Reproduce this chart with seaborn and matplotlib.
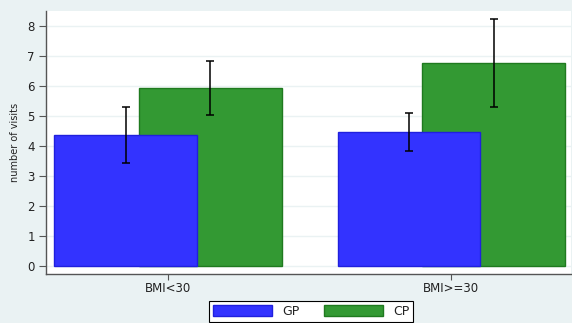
import matplotlib
matplotlib.use("Agg")
import matplotlib.pyplot as plt
import seaborn as sns
import pandas as pd
import numpy as np

categories = ["BMI<30", "BMI>=30"]
series = ["GP", "CP"]
gp_mean = [4.37, 4.48]
gp_low = [3.44, 3.83]
gp_high = [5.31, 5.10]
cp_mean = [5.92, 6.78]
cp_low = [5.03, 5.31]
cp_high = [6.83, 8.24]

sns.set_theme(style="white")
plt.rcParams['font.family'] = ['DejaVu Sans']

bg = "#eaf2f3"
fig = plt.figure(figsize=(5.72, 3.23), dpi=100, facecolor=bg)
ax = fig.add_axes([0.0804, 0.1517, 0.918, 0.8143])
ax.set_facecolor("white")

offset = 0.15
width = 0.502
pos = np.arange(len(categories))

df = pd.DataFrame({
    "pos": np.concatenate([pos - offset, pos + offset]),
    "value": gp_mean + cp_mean,
    "series": ["GP"] * len(categories) + ["CP"] * len(categories),
})

colors = {"GP": "#3333ff", "CP": "#339933"}
edges = {"GP": "#2020dd", "CP": "#1f7a1f"}

# draw CP first (behind), then GP
for s in ["CP", "GP"]:
    sub = df[df.series == s]
    sns.barplot(data=sub, x="pos", y="value", native_scale=True, width=width,
                color=colors[s], saturation=1, errorbar=None, ax=ax,
                edgecolor=edges[s], linewidth=1, label=s, zorder=2)

for m, lo, hi, sgn in [(gp_mean, gp_low, gp_high, -1), (cp_mean, cp_low, cp_high, 1)]:
    xs = pos + sgn * offset
    ax.errorbar(xs, (np.array(lo) + np.array(hi)) / 2,
                yerr=(np.array(hi) - np.array(lo)) / 2,
                fmt="none", ecolor="black", elinewidth=1.1, capsize=3, capthick=1.1, zorder=5)

handles, labels = ax.get_legend_handles_labels()
if ax.get_legend() is not None:
    ax.get_legend().remove()

ax.set_xlim(-0.431, 1.424)
ax.set_ylim(-0.27, 8.5)
ax.set_yticks(range(0, 9))
ax.set_xticks(pos)
ax.set_xticklabels(categories)
ax.set_xlabel("")
ax.set_ylabel("number of visits", fontsize=7, labelpad=5, color="#222222")
ax.tick_params(axis="y", labelsize=8.5, length=5, width=0.8, color="#555555", pad=3,
               left=True, labelcolor="#222222")
ax.tick_params(axis="x", labelsize=8.5, length=4, width=0.8, color="#555555", pad=2,
               bottom=True, labelcolor="#222222")
ax.yaxis.grid(True, color=bg, linewidth=1)
ax.set_axisbelow(True)
for sp in ["top", "right"]:
    ax.spines[sp].set_visible(False)
for sp in ["left", "bottom"]:
    ax.spines[sp].set_color("#555555")
    ax.spines[sp].set_linewidth(1)

order = [labels.index("GP"), labels.index("CP")]
leg = fig.legend([handles[i] for i in order], [labels[i] for i in order],
                 loc="lower center", bbox_to_anchor=(0.544, 0.0), ncol=2,
                 fontsize=9, frameon=True, fancybox=False, edgecolor="black",
                 facecolor="white", framealpha=1, handlelength=4.7, handleheight=0.95,
                 handletextpad=0.8, columnspacing=2.0, borderpad=0.3, borderaxespad=0.1)
leg.get_frame().set_linewidth(0.8)
for t in leg.get_texts():
    t.set_color("#222222")

fig.savefig("out.png", dpi=100, facecolor=bg)
